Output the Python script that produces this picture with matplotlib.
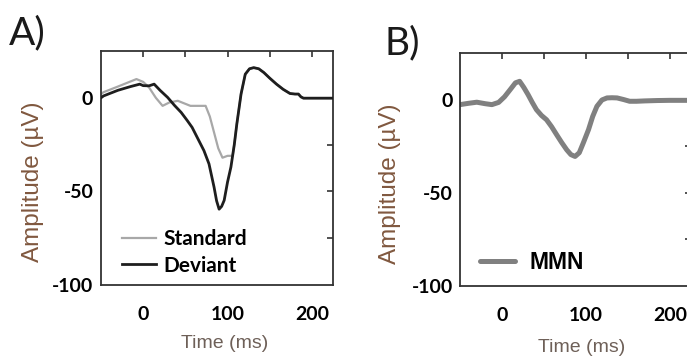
import matplotlib
matplotlib.use("Agg")
import matplotlib.pyplot as plt
import numpy as np

# ---- data ----
std_t = [-50, -47, -30, -8, 0, 7, 15, 23, 31, 41, 56, 74, 79, 84, 89, 94, 100, 106, 108, 111, 116, 121, 126, 131, 137, 143, 150, 158, 166, 174, 180, 184, 187, 190, 200, 225]
std_v = [2, 3, 6, 10, 8.5, 5.5, 0, -4.3, -2.5, -1.6, -4.3, -4.3, -10, -18.5, -27, -32, -31, -31, -25, -14, 2, 12.6, 15.5, 16.1, 15.5, 13.5, 10.5, 7.3, 4.5, 2.3, 2, 2, 0.5, -0.2, -0.2, -0.2]
dev_t = [-50, -47, -30, -15, -4, 0, 7, 13, 20, 29, 37, 45, 52, 58, 65, 72, 78, 84, 87, 90, 93, 96, 100, 104, 108, 111, 116, 121, 126, 131, 137, 143, 150, 158, 166, 174, 180, 184, 187, 190, 200, 225]
dev_v = [0, 1, 4, 6, 7.3, 6.5, 6.4, 7.3, 4, 0.2, -4, -7.8, -12, -15.8, -22, -28.2, -35.3, -47.7, -55, -59.5, -58, -54.8, -45, -37, -25, -14, 2, 12.6, 15.5, 16.1, 15.5, 13.5, 10.5, 7.3, 4.5, 2.3, 2, 2, 0.5, -0.2, -0.2, -0.2]
mmn_t = [-50, -40, -30, -20, -12, -4, 3, 10, 16, 21, 26, 31, 36, 41, 47, 53, 59, 65, 71, 77, 82, 87, 92, 97, 103, 108, 113, 119, 125, 131, 137, 145, 152, 160, 170, 185, 200, 225]
mmn_v = [-2.7, -2, -1.4, -2.2, -2.7, -1.5, 1.5, 5.5, 9, 9.8, 6.5, 2.7, -1.5, -5.4, -8.5, -10.8, -14.5, -18.8, -23, -26.9, -29.5, -30.5, -28.5, -23, -16.1, -9, -3.6, -0.2, 0.9, 1, 0.9, 0, -0.9, -0.9, -0.7, -0.5, -0.4, -0.4]

xticks = [0, 100, 200]
yticks = [0, -50, -100]
xlim = (-50, 225)
ylim = (-100, 25)

W, H = 687, 358
fig = plt.figure(figsize=(W / 100, H / 100), dpi=100)

TICKFONT = dict(family="Lato", weight="bold", size=14)
LABEL_COLOR_Y = "#80583f"
LABEL_COLOR_X = "#6e6058"
SPINE = "#333333"


def fx(px):
    return px / W


def fy(py):
    return 1 - py / H


def setup(ax, ypad):
    ax.set_xlim(*xlim)
    ax.set_ylim(*ylim)
    for s in ax.spines.values():
        s.set_color(SPINE)
        s.set_linewidth(1.3)
    ax.set_xticks(xticks)
    ax.set_yticks(yticks)
    ax.set_xticklabels([str(v) for v in xticks], fontdict=TICKFONT)
    ax.set_yticklabels([str(v) for v in yticks], fontdict=TICKFONT)
    ax.tick_params(axis="x", length=0, pad=15)
    ax.tick_params(axis="y", length=0, pad=ypad)
    sec_top = ax.secondary_xaxis("top")
    sec_top.set_xticks([0, 50, 100, 150, 200])
    sec_top.tick_params(direction="in", length=4, width=1.2, color=SPINE, labeltop=False)
    sec_top.spines["top"].set_visible(False)
    sec_r = ax.secondary_yaxis("right")
    sec_r.set_yticks([0, -25, -50, -75])
    sec_r.tick_params(direction="in", length=4, width=1.2, color=SPINE, labelright=False)
    sec_r.spines["right"].set_visible(False)


# Panel A
axA = fig.add_axes([fx(101), fy(285), (333 - 101) / W, (285 - 51) / H])
setup(axA, 5.5)
axA.plot(std_t, std_v, color="#a8a8a8", lw=1.6, label="Standard", zorder=2)
axA.plot(dev_t, dev_v, color="#1e1e1e", lw=2.0, label="Deviant", zorder=3)
axA.legend(loc="lower left", bbox_to_anchor=(0.09, 0.04), frameon=False, borderpad=0,
           borderaxespad=0, handlelength=1.65, handletextpad=0.35, labelspacing=0.3,
           prop=dict(family="Lato", weight="bold", size=15))

# Panel B (right spine falls just outside the image)
axB = fig.add_axes([fx(460), fy(286), 231 / W, (286 - 53) / H])
setup(axB, 5)
axB.plot(mmn_t, mmn_v, color="#808080", lw=3.6, label="MMN", solid_capstyle="round")
axB.legend(loc="lower left", bbox_to_anchor=((480 - 460) / 231, 0.05), frameon=False, borderpad=0,
           borderaxespad=0, handlelength=1.52, handletextpad=0.65,
           prop=dict(family="Liberation Sans", weight="bold", size=16.5))

# Axis labels
for cx, cy in [(33, 182), (390, 184)]:
    fig.text(fx(cx), fy(cy), "Amplitude (µV)", rotation=90, ha="center", va="center",
             family="Liberation Sans", size=17.5, color=LABEL_COLOR_Y)
for cx, cy in [(225, 343), (582, 348)]:
    fig.text(fx(cx), fy(cy), "Time (ms)", ha="center", va="center",
             family="Liberation Sans", size=14, color=LABEL_COLOR_X)

# Panel letters
fig.text(fx(27), fy(33), "A)", ha="center", va="center", family="Lato", size=28, color="#1a1a1a")
fig.text(fx(402), fy(43), "B)", ha="center", va="center", family="Lato", size=28, color="#1a1a1a")

fig.savefig("out.png", dpi=100)
